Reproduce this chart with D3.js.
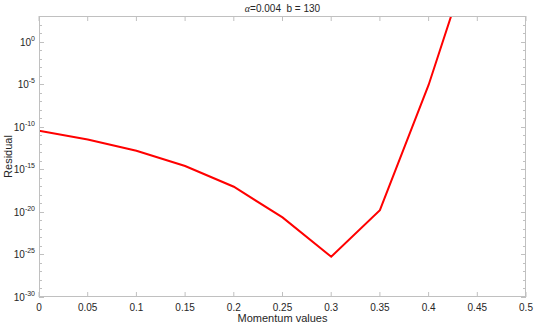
<!DOCTYPE html>
<html><head><meta charset="utf-8">
<script src="https://cdn.jsdelivr.net/npm/d3@7"></script>
<style>body{margin:0;background:#fff}svg{display:block}text{font-family:"Liberation Sans",Arial,sans-serif;white-space:pre}</style>
</head><body><svg id="c" width="538" height="328"></svg>
<script>
const momentum = [0, 0.05, 0.1, 0.15, 0.2, 0.25, 0.3, 0.35, 0.4, 0.45];
const residualExp = [-10.48, -11.5, -12.83, -14.62, -17.05, -20.65, -25.27, -19.8, -5.1, 12.4];
const xTicks = [0, 0.05, 0.1, 0.15, 0.2, 0.25, 0.3, 0.35, 0.4, 0.45, 0.5];
const xTickLabels = ["0", "0.05", "0.1", "0.15", "0.2", "0.25", "0.3", "0.35", "0.4", "0.45", "0.5"];
const yTickExps = [-30, -25, -20, -15, -10, -5, 0];
const yMinorExps = d3.range(-30, 4);
const titleAlpha = "α";
const titleRest = "=0.004  b = 130";
const xLabel = "Momentum values";
const yLabel = "Residual";

const L = 39, R = 526, T = 16, B = 297;
const svg = d3.select("#c");
const x = d3.scaleLinear().domain([0, 0.5]).range([L, R]);
const y = d3.scaleLog().domain([1e-30, 1e3]).range([B, T]);
const frame = "#c0c0c0", txt = "#262626";

// ticks
const g = svg.append("g");
xTicks.forEach(t => {
  g.append("line").attr("x1", x(t)).attr("x2", x(t)).attr("y1", B).attr("y2", B - 5).attr("stroke", frame);
  g.append("line").attr("x1", x(t)).attr("x2", x(t)).attr("y1", T).attr("y2", T + 5).attr("stroke", frame);
});
yMinorExps.forEach(e => {
  const major = yTickExps.includes(e);
  const len = major ? 5 : 3;
  const yy = Math.round(y(Math.pow(10, e))) + 0.5;
  g.append("line").attr("x1", L).attr("x2", L + len).attr("y1", yy).attr("y2", yy).attr("stroke", frame);
  g.append("line").attr("x1", R).attr("x2", R - len).attr("y1", yy).attr("y2", yy).attr("stroke", frame);
});

// data line
svg.append("clipPath").attr("id", "clip").append("rect").attr("x", L).attr("y", T).attr("width", R - L).attr("height", B - T);
const data = momentum.map((m, i) => [m, Math.pow(10, residualExp[i])]);
svg.append("path").datum(data).attr("clip-path", "url(#clip)")
  .attr("d", d3.line().x(d => x(d[0])).y(d => y(d[1])))
  .attr("fill", "none").attr("stroke", "#ff0000").attr("stroke-width", 2);

// frame
svg.append("rect").attr("x", L + 0.5).attr("y", T + 0.5).attr("width", R - L - 1).attr("height", B - T - 1)
  .attr("fill", "none").attr("stroke", frame);

// x tick labels
xTicks.forEach((t, i) => {
  svg.append("text").attr("x", x(t)).attr("y", B + 14).attr("text-anchor", "middle")
    .attr("font-size", 10).attr("fill", txt).text(xTickLabels[i]);
});
// y tick labels
yTickExps.forEach(e => {
  const t = svg.append("text").attr("x", L - 4).attr("y", y(Math.pow(10, e)) + 4).attr("text-anchor", "end")
    .attr("font-size", 10).attr("fill", txt);
  t.append("tspan").text("10");
  t.append("tspan").attr("font-size", 7).attr("dy", -5).text(String(e));
});

// title
const tt = svg.append("text").attr("x", (L + R) / 2).attr("y", 12).attr("text-anchor", "middle")
  .attr("font-size", 10).attr("fill", txt).attr("xml:space", "preserve");
tt.append("tspan").attr("font-family", "'Liberation Serif',serif").attr("font-style", "italic").text(titleAlpha);
tt.append("tspan").text(titleRest);

svg.append("text").attr("x", (L + R) / 2).attr("y", 322).attr("text-anchor", "middle")
  .attr("font-size", 11).attr("fill", txt).text(xLabel);
svg.append("text").attr("transform", `translate(12,${(T + B) / 2}) rotate(-90)`).attr("text-anchor", "middle")
  .attr("font-size", 11).attr("fill", txt).text(yLabel);
</script></body></html>
